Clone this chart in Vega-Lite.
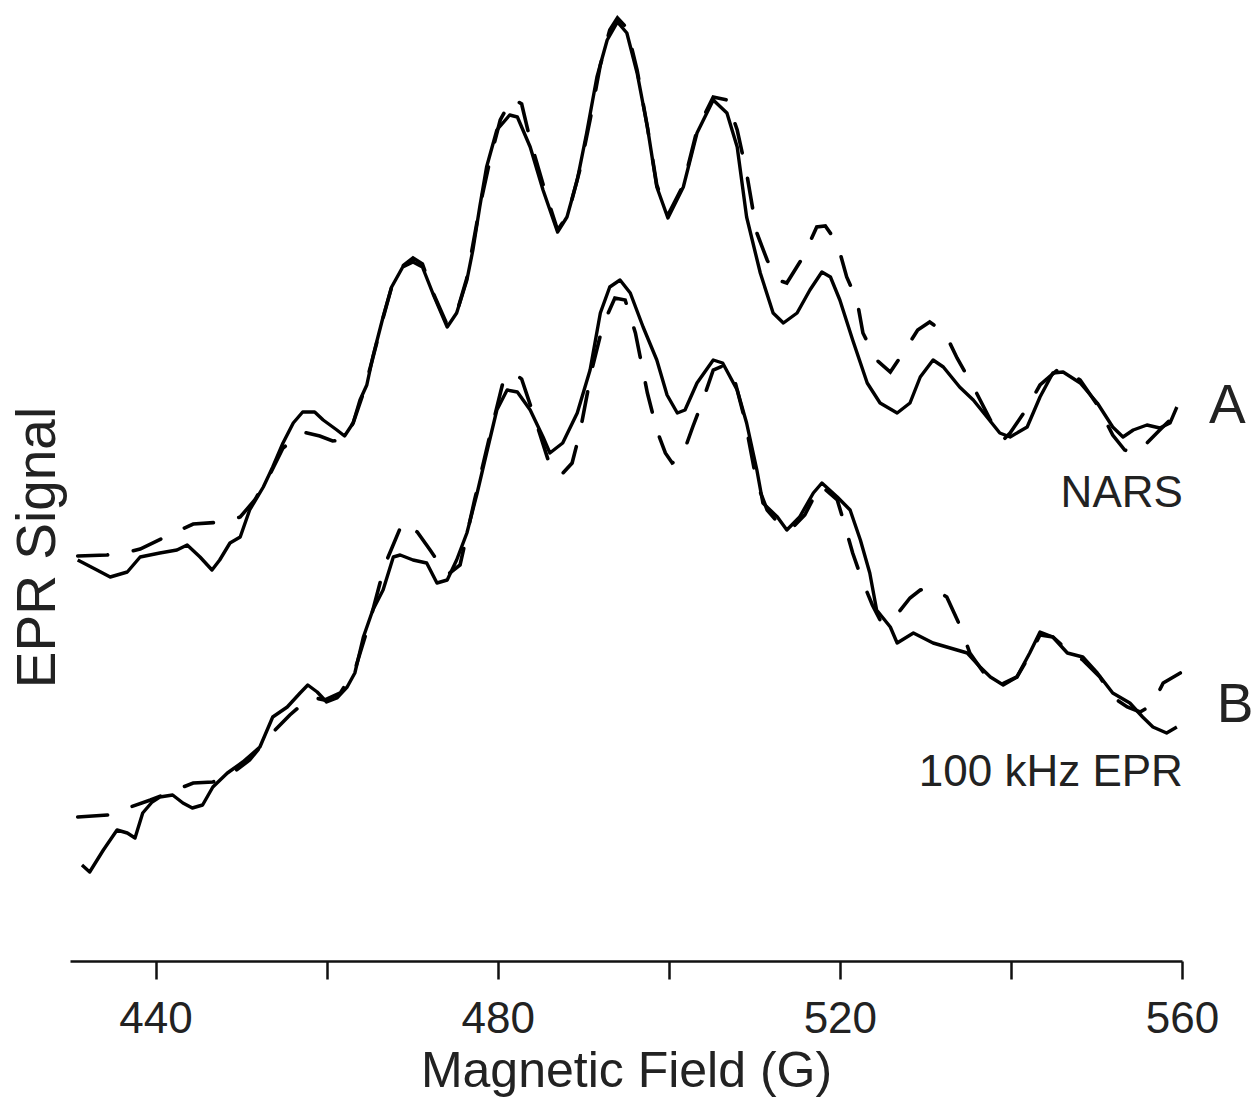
{
  "$schema": "https://vega.github.io/schema/vega-lite/v6.json",
  "width": 1112,
  "height": 961,
  "autosize": {"type": "none"},
  "padding": {"left": 70, "top": 0, "right": 74, "bottom": 147},
  "background": "white",
  "config": {
    "view": {"stroke": null},
    "font": "Liberation Sans"
  },
  "datasets": {
    "spectra": [
      {"field":430.9,"signal":401,"trace":"A","kind":"measured"},{"field":432.7,"signal":393,"trace":"A","kind":"measured"},{"field":434.7,"signal":384,"trace":"A","kind":"measured"},{"field":436.7,"signal":389,"trace":"A","kind":"measured"},{"field":438.2,"signal":404,"trace":"A","kind":"measured"},{"field":440.5,"signal":408,"trace":"A","kind":"measured"},{"field":442.5,"signal":411,"trace":"A","kind":"measured"},{"field":443.7,"signal":416,"trace":"A","kind":"measured"},{"field":445.2,"signal":404,"trace":"A","kind":"measured"},{"field":446.6,"signal":391,"trace":"A","kind":"measured"},{"field":447.5,"signal":401,"trace":"A","kind":"measured"},{"field":448.7,"signal":418,"trace":"A","kind":"measured"},{"field":449.9,"signal":424,"trace":"A","kind":"measured"},{"field":451.0,"signal":451,"trace":"A","kind":"measured"},{"field":452.6,"signal":474,"trace":"A","kind":"measured"},{"field":453.7,"signal":494,"trace":"A","kind":"measured"},{"field":454.9,"signal":518,"trace":"A","kind":"measured"},{"field":456.1,"signal":538,"trace":"A","kind":"measured"},{"field":457.2,"signal":549,"trace":"A","kind":"measured"},{"field":458.6,"signal":549,"trace":"A","kind":"measured"},{"field":459.6,"signal":541,"trace":"A","kind":"measured"},{"field":461.2,"signal":531,"trace":"A","kind":"measured"},{"field":462.1,"signal":525,"trace":"A","kind":"measured"},{"field":463.1,"signal":538,"trace":"A","kind":"measured"},{"field":463.9,"signal":561,"trace":"A","kind":"measured"},{"field":464.7,"signal":576,"trace":"A","kind":"measured"},{"field":465.4,"signal":604,"trace":"A","kind":"measured"},{"field":466.6,"signal":644,"trace":"A","kind":"measured"},{"field":467.6,"signal":674,"trace":"A","kind":"measured"},{"field":468.9,"signal":694,"trace":"A","kind":"measured"},{"field":470.1,"signal":699,"trace":"A","kind":"measured"},{"field":471.2,"signal":694,"trace":"A","kind":"measured"},{"field":472.4,"signal":668,"trace":"A","kind":"measured"},{"field":474.1,"signal":634,"trace":"A","kind":"measured"},{"field":475.2,"signal":648,"trace":"A","kind":"measured"},{"field":476.4,"signal":681,"trace":"A","kind":"measured"},{"field":477.1,"signal":711,"trace":"A","kind":"measured"},{"field":477.9,"signal":754,"trace":"A","kind":"measured"},{"field":478.7,"signal":794,"trace":"A","kind":"measured"},{"field":479.9,"signal":831,"trace":"A","kind":"measured"},{"field":481.4,"signal":846,"trace":"A","kind":"measured"},{"field":482.3,"signal":844,"trace":"A","kind":"measured"},{"field":483.8,"signal":814,"trace":"A","kind":"measured"},{"field":485.3,"signal":771,"trace":"A","kind":"measured"},{"field":487.0,"signal":729,"trace":"A","kind":"measured"},{"field":488.1,"signal":744,"trace":"A","kind":"measured"},{"field":489.3,"signal":781,"trace":"A","kind":"measured"},{"field":490.4,"signal":828,"trace":"A","kind":"measured"},{"field":491.6,"signal":884,"trace":"A","kind":"measured"},{"field":492.8,"signal":921,"trace":"A","kind":"measured"},{"field":494.0,"signal":939,"trace":"A","kind":"measured"},{"field":495.1,"signal":928,"trace":"A","kind":"measured"},{"field":496.3,"signal":888,"trace":"A","kind":"measured"},{"field":497.5,"signal":834,"trace":"A","kind":"measured"},{"field":498.6,"signal":774,"trace":"A","kind":"measured"},{"field":499.9,"signal":743,"trace":"A","kind":"measured"},{"field":501.7,"signal":774,"trace":"A","kind":"measured"},{"field":503.3,"signal":828,"trace":"A","kind":"measured"},{"field":505.2,"signal":861,"trace":"A","kind":"measured"},{"field":506.8,"signal":848,"trace":"A","kind":"measured"},{"field":508.0,"signal":814,"trace":"A","kind":"measured"},{"field":509.1,"signal":744,"trace":"A","kind":"measured"},{"field":510.7,"signal":688,"trace":"A","kind":"measured"},{"field":512.2,"signal":648,"trace":"A","kind":"measured"},{"field":513.4,"signal":638,"trace":"A","kind":"measured"},{"field":515.0,"signal":648,"trace":"A","kind":"measured"},{"field":516.5,"signal":671,"trace":"A","kind":"measured"},{"field":517.9,"signal":689,"trace":"A","kind":"measured"},{"field":518.9,"signal":684,"trace":"A","kind":"measured"},{"field":520.0,"signal":661,"trace":"A","kind":"measured"},{"field":521.5,"signal":621,"trace":"A","kind":"measured"},{"field":523.2,"signal":578,"trace":"A","kind":"measured"},{"field":524.7,"signal":558,"trace":"A","kind":"measured"},{"field":526.7,"signal":548,"trace":"A","kind":"measured"},{"field":528.2,"signal":558,"trace":"A","kind":"measured"},{"field":529.4,"signal":584,"trace":"A","kind":"measured"},{"field":530.9,"signal":601,"trace":"A","kind":"measured"},{"field":532.1,"signal":594,"trace":"A","kind":"measured"},{"field":534.0,"signal":574,"trace":"A","kind":"measured"},{"field":535.6,"signal":561,"trace":"A","kind":"measured"},{"field":537.2,"signal":544,"trace":"A","kind":"measured"},{"field":538.7,"signal":528,"trace":"A","kind":"measured"},{"field":539.9,"signal":524,"trace":"A","kind":"measured"},{"field":541.9,"signal":534,"trace":"A","kind":"measured"},{"field":543.4,"signal":564,"trace":"A","kind":"measured"},{"field":544.9,"signal":588,"trace":"A","kind":"measured"},{"field":546.1,"signal":589,"trace":"A","kind":"measured"},{"field":548.1,"signal":578,"trace":"A","kind":"measured"},{"field":550.1,"signal":558,"trace":"A","kind":"measured"},{"field":551.9,"signal":534,"trace":"A","kind":"measured"},{"field":553.1,"signal":524,"trace":"A","kind":"measured"},{"field":554.3,"signal":531,"trace":"A","kind":"measured"},{"field":555.9,"signal":536,"trace":"A","kind":"measured"},{"field":557.4,"signal":533,"trace":"A","kind":"measured"},{"field":558.6,"signal":538,"trace":"A","kind":"measured"},{"field":559.4,"signal":554,"trace":"A","kind":"measured"},

      {"field":430.9,"signal":405,"trace":"A","kind":"simulated"},{"field":434.3,"signal":406,"trace":"A","kind":"simulated"},{"field":436.4,"signal":408,"trace":"A","kind":"simulated"},{"field":438.2,"signal":412,"trace":"A","kind":"simulated"},{"field":441.1,"signal":424,"trace":"A","kind":"simulated"},{"field":444.4,"signal":437,"trace":"A","kind":"simulated"},{"field":447.9,"signal":439,"trace":"A","kind":"simulated"},{"field":449.9,"signal":444,"trace":"A","kind":"simulated"},{"field":451.6,"signal":461,"trace":"A","kind":"simulated"},{"field":453.4,"signal":487,"trace":"A","kind":"simulated"},{"field":454.9,"signal":513,"trace":"A","kind":"simulated"},{"field":456.1,"signal":521,"trace":"A","kind":"simulated"},{"field":457.2,"signal":529,"trace":"A","kind":"simulated"},{"field":459.2,"signal":525,"trace":"A","kind":"simulated"},{"field":460.7,"signal":520,"trace":"A","kind":"simulated"},{"field":461.9,"signal":521,"trace":"A","kind":"simulated"},{"field":463.1,"signal":538,"trace":"A","kind":"simulated"},{"field":464.3,"signal":568,"trace":"A","kind":"simulated"},{"field":465.4,"signal":603,"trace":"A","kind":"simulated"},{"field":466.6,"signal":643,"trace":"A","kind":"simulated"},{"field":467.6,"signal":674,"trace":"A","kind":"simulated"},{"field":468.9,"signal":695,"trace":"A","kind":"simulated"},{"field":470.1,"signal":703,"trace":"A","kind":"simulated"},{"field":471.2,"signal":697,"trace":"A","kind":"simulated"},{"field":472.4,"signal":669,"trace":"A","kind":"simulated"},{"field":474.1,"signal":636,"trace":"A","kind":"simulated"},{"field":475.2,"signal":648,"trace":"A","kind":"simulated"},{"field":476.4,"signal":683,"trace":"A","kind":"simulated"},{"field":477.9,"signal":754,"trace":"A","kind":"simulated"},{"field":479.1,"signal":801,"trace":"A","kind":"simulated"},{"field":480.3,"signal":841,"trace":"A","kind":"simulated"},{"field":481.7,"signal":863,"trace":"A","kind":"simulated"},{"field":482.8,"signal":857,"trace":"A","kind":"simulated"},{"field":483.8,"signal":821,"trace":"A","kind":"simulated"},{"field":485.5,"signal":771,"trace":"A","kind":"simulated"},{"field":487.0,"signal":731,"trace":"A","kind":"simulated"},{"field":488.2,"signal":746,"trace":"A","kind":"simulated"},{"field":489.6,"signal":791,"trace":"A","kind":"simulated"},{"field":490.8,"signal":841,"trace":"A","kind":"simulated"},{"field":492.0,"signal":896,"trace":"A","kind":"simulated"},{"field":493.1,"signal":931,"trace":"A","kind":"simulated"},{"field":494.0,"signal":943,"trace":"A","kind":"simulated"},{"field":495.1,"signal":933,"trace":"A","kind":"simulated"},{"field":496.3,"signal":891,"trace":"A","kind":"simulated"},{"field":497.5,"signal":834,"trace":"A","kind":"simulated"},{"field":498.6,"signal":776,"trace":"A","kind":"simulated"},{"field":499.9,"signal":746,"trace":"A","kind":"simulated"},{"field":501.7,"signal":776,"trace":"A","kind":"simulated"},{"field":503.3,"signal":831,"trace":"A","kind":"simulated"},{"field":505.2,"signal":864,"trace":"A","kind":"simulated"},{"field":506.8,"signal":861,"trace":"A","kind":"simulated"},{"field":508.0,"signal":831,"trace":"A","kind":"simulated"},{"field":509.1,"signal":788,"trace":"A","kind":"simulated"},{"field":510.3,"signal":728,"trace":"A","kind":"simulated"},{"field":511.5,"signal":701,"trace":"A","kind":"simulated"},{"field":512.7,"signal":681,"trace":"A","kind":"simulated"},{"field":513.8,"signal":678,"trace":"A","kind":"simulated"},{"field":515.7,"signal":704,"trace":"A","kind":"simulated"},{"field":517.3,"signal":734,"trace":"A","kind":"simulated"},{"field":518.3,"signal":735,"trace":"A","kind":"simulated"},{"field":519.7,"signal":718,"trace":"A","kind":"simulated"},{"field":520.8,"signal":684,"trace":"A","kind":"simulated"},{"field":522.0,"signal":661,"trace":"A","kind":"simulated"},{"field":522.7,"signal":628,"trace":"A","kind":"simulated"},{"field":524.3,"signal":601,"trace":"A","kind":"simulated"},{"field":525.9,"signal":589,"trace":"A","kind":"simulated"},{"field":527.4,"signal":608,"trace":"A","kind":"simulated"},{"field":529.1,"signal":631,"trace":"A","kind":"simulated"},{"field":530.5,"signal":639,"trace":"A","kind":"simulated"},{"field":532.3,"signal":628,"trace":"A","kind":"simulated"},{"field":533.7,"signal":603,"trace":"A","kind":"simulated"},{"field":535.8,"signal":571,"trace":"A","kind":"simulated"},{"field":537.6,"signal":541,"trace":"A","kind":"simulated"},{"field":539.1,"signal":521,"trace":"A","kind":"simulated"},{"field":539.9,"signal":528,"trace":"A","kind":"simulated"},{"field":541.9,"signal":553,"trace":"A","kind":"simulated"},{"field":543.4,"signal":576,"trace":"A","kind":"simulated"},{"field":545.7,"signal":593,"trace":"A","kind":"simulated"},{"field":548.1,"signal":581,"trace":"A","kind":"simulated"},{"field":550.1,"signal":556,"trace":"A","kind":"simulated"},{"field":551.9,"signal":526,"trace":"A","kind":"simulated"},{"field":553.3,"signal":511,"trace":"A","kind":"simulated"},{"field":554.5,"signal":508,"trace":"A","kind":"simulated"},{"field":555.9,"signal":518,"trace":"A","kind":"simulated"},{"field":557.4,"signal":531,"trace":"A","kind":"simulated"},{"field":558.6,"signal":541,"trace":"A","kind":"simulated"},{"field":559.8,"signal":551,"trace":"A","kind":"simulated"},

      {"field":431.4,"signal":96,"trace":"B","kind":"measured"},{"field":432.3,"signal":89,"trace":"B","kind":"measured"},{"field":433.9,"signal":111,"trace":"B","kind":"measured"},{"field":435.5,"signal":131,"trace":"B","kind":"measured"},{"field":436.7,"signal":128,"trace":"B","kind":"measured"},{"field":437.6,"signal":123,"trace":"B","kind":"measured"},{"field":438.5,"signal":148,"trace":"B","kind":"measured"},{"field":439.6,"signal":159,"trace":"B","kind":"measured"},{"field":440.5,"signal":164,"trace":"B","kind":"measured"},{"field":442.0,"signal":166,"trace":"B","kind":"measured"},{"field":443.2,"signal":158,"trace":"B","kind":"measured"},{"field":444.3,"signal":153,"trace":"B","kind":"measured"},{"field":445.5,"signal":156,"trace":"B","kind":"measured"},{"field":446.7,"signal":174,"trace":"B","kind":"measured"},{"field":448.4,"signal":188,"trace":"B","kind":"measured"},{"field":450.2,"signal":199,"trace":"B","kind":"measured"},{"field":452.2,"signal":214,"trace":"B","kind":"measured"},{"field":453.7,"signal":244,"trace":"B","kind":"measured"},{"field":455.4,"signal":254,"trace":"B","kind":"measured"},{"field":456.9,"signal":268,"trace":"B","kind":"measured"},{"field":457.8,"signal":276,"trace":"B","kind":"measured"},{"field":458.9,"signal":269,"trace":"B","kind":"measured"},{"field":460.0,"signal":259,"trace":"B","kind":"measured"},{"field":461.2,"signal":263,"trace":"B","kind":"measured"},{"field":462.4,"signal":274,"trace":"B","kind":"measured"},{"field":463.3,"signal":288,"trace":"B","kind":"measured"},{"field":464.3,"signal":324,"trace":"B","kind":"measured"},{"field":465.4,"signal":351,"trace":"B","kind":"measured"},{"field":466.6,"signal":371,"trace":"B","kind":"measured"},{"field":467.8,"signal":404,"trace":"B","kind":"measured"},{"field":468.6,"signal":406,"trace":"B","kind":"measured"},{"field":470.1,"signal":401,"trace":"B","kind":"measured"},{"field":471.7,"signal":398,"trace":"B","kind":"measured"},{"field":472.9,"signal":378,"trace":"B","kind":"measured"},{"field":474.1,"signal":381,"trace":"B","kind":"measured"},{"field":475.2,"signal":401,"trace":"B","kind":"measured"},{"field":476.4,"signal":428,"trace":"B","kind":"measured"},{"field":477.6,"signal":468,"trace":"B","kind":"measured"},{"field":478.7,"signal":508,"trace":"B","kind":"measured"},{"field":479.9,"signal":551,"trace":"B","kind":"measured"},{"field":481.1,"signal":571,"trace":"B","kind":"measured"},{"field":482.3,"signal":569,"trace":"B","kind":"measured"},{"field":483.8,"signal":551,"trace":"B","kind":"measured"},{"field":485.3,"signal":524,"trace":"B","kind":"measured"},{"field":486.1,"signal":508,"trace":"B","kind":"measured"},{"field":487.6,"signal":518,"trace":"B","kind":"measured"},{"field":489.3,"signal":548,"trace":"B","kind":"measured"},{"field":490.8,"signal":591,"trace":"B","kind":"measured"},{"field":492.0,"signal":648,"trace":"B","kind":"measured"},{"field":493.1,"signal":674,"trace":"B","kind":"measured"},{"field":494.3,"signal":681,"trace":"B","kind":"measured"},{"field":495.5,"signal":668,"trace":"B","kind":"measured"},{"field":497.0,"signal":634,"trace":"B","kind":"measured"},{"field":498.6,"signal":601,"trace":"B","kind":"measured"},{"field":499.8,"signal":566,"trace":"B","kind":"measured"},{"field":501.0,"signal":548,"trace":"B","kind":"measured"},{"field":501.9,"signal":551,"trace":"B","kind":"measured"},{"field":503.3,"signal":578,"trace":"B","kind":"measured"},{"field":505.2,"signal":601,"trace":"B","kind":"measured"},{"field":506.3,"signal":598,"trace":"B","kind":"measured"},{"field":508.0,"signal":571,"trace":"B","kind":"measured"},{"field":509.1,"signal":538,"trace":"B","kind":"measured"},{"field":510.3,"signal":491,"trace":"B","kind":"measured"},{"field":511.0,"signal":458,"trace":"B","kind":"measured"},{"field":512.7,"signal":444,"trace":"B","kind":"measured"},{"field":513.8,"signal":431,"trace":"B","kind":"measured"},{"field":515.3,"signal":444,"trace":"B","kind":"measured"},{"field":516.9,"signal":468,"trace":"B","kind":"measured"},{"field":517.9,"signal":478,"trace":"B","kind":"measured"},{"field":519.7,"signal":464,"trace":"B","kind":"measured"},{"field":521.2,"signal":451,"trace":"B","kind":"measured"},{"field":522.4,"signal":421,"trace":"B","kind":"measured"},{"field":523.5,"signal":388,"trace":"B","kind":"measured"},{"field":524.3,"signal":351,"trace":"B","kind":"measured"},{"field":525.9,"signal":334,"trace":"B","kind":"measured"},{"field":526.7,"signal":318,"trace":"B","kind":"measured"},{"field":528.6,"signal":328,"trace":"B","kind":"measured"},{"field":530.9,"signal":318,"trace":"B","kind":"measured"},{"field":533.7,"signal":311,"trace":"B","kind":"measured"},{"field":534.9,"signal":308,"trace":"B","kind":"measured"},{"field":536.4,"signal":294,"trace":"B","kind":"measured"},{"field":537.6,"signal":284,"trace":"B","kind":"measured"},{"field":539.1,"signal":276,"trace":"B","kind":"measured"},{"field":540.7,"signal":284,"trace":"B","kind":"measured"},{"field":542.2,"signal":308,"trace":"B","kind":"measured"},{"field":543.4,"signal":329,"trace":"B","kind":"measured"},{"field":544.9,"signal":324,"trace":"B","kind":"measured"},{"field":546.6,"signal":308,"trace":"B","kind":"measured"},{"field":548.4,"signal":304,"trace":"B","kind":"measured"},{"field":550.1,"signal":288,"trace":"B","kind":"measured"},{"field":551.9,"signal":268,"trace":"B","kind":"measured"},{"field":553.9,"signal":258,"trace":"B","kind":"measured"},{"field":555.4,"signal":244,"trace":"B","kind":"measured"},{"field":556.6,"signal":234,"trace":"B","kind":"measured"},{"field":558.2,"signal":228,"trace":"B","kind":"measured"},{"field":559.4,"signal":234,"trace":"B","kind":"measured"},

      {"field":430.9,"signal":144,"trace":"B","kind":"simulated"},{"field":434.4,"signal":146,"trace":"B","kind":"simulated"},{"field":439.4,"signal":161,"trace":"B","kind":"simulated"},{"field":444.4,"signal":178,"trace":"B","kind":"simulated"},{"field":446.7,"signal":179,"trace":"B","kind":"simulated"},{"field":448.7,"signal":186,"trace":"B","kind":"simulated"},{"field":451.0,"signal":201,"trace":"B","kind":"simulated"},{"field":453.4,"signal":226,"trace":"B","kind":"simulated"},{"field":455.7,"signal":246,"trace":"B","kind":"simulated"},{"field":458.1,"signal":264,"trace":"B","kind":"simulated"},{"field":459.8,"signal":261,"trace":"B","kind":"simulated"},{"field":461.6,"signal":268,"trace":"B","kind":"simulated"},{"field":463.3,"signal":291,"trace":"B","kind":"simulated"},{"field":465.1,"signal":341,"trace":"B","kind":"simulated"},{"field":466.8,"signal":396,"trace":"B","kind":"simulated"},{"field":468.9,"signal":439,"trace":"B","kind":"simulated"},{"field":470.6,"signal":429,"trace":"B","kind":"simulated"},{"field":472.1,"signal":411,"trace":"B","kind":"simulated"},{"field":474.1,"signal":386,"trace":"B","kind":"simulated"},{"field":475.6,"signal":396,"trace":"B","kind":"simulated"},{"field":477.3,"signal":461,"trace":"B","kind":"simulated"},{"field":479.1,"signal":526,"trace":"B","kind":"simulated"},{"field":480.6,"signal":578,"trace":"B","kind":"simulated"},{"field":481.7,"signal":589,"trace":"B","kind":"simulated"},{"field":482.8,"signal":582,"trace":"B","kind":"simulated"},{"field":484.4,"signal":541,"trace":"B","kind":"simulated"},{"field":485.9,"signal":501,"trace":"B","kind":"simulated"},{"field":487.3,"signal":485,"trace":"B","kind":"simulated"},{"field":488.7,"signal":498,"trace":"B","kind":"simulated"},{"field":489.6,"signal":528,"trace":"B","kind":"simulated"},{"field":491.0,"signal":591,"trace":"B","kind":"simulated"},{"field":492.3,"signal":636,"trace":"B","kind":"simulated"},{"field":493.7,"signal":663,"trace":"B","kind":"simulated"},{"field":494.9,"signal":661,"trace":"B","kind":"simulated"},{"field":496.1,"signal":628,"trace":"B","kind":"simulated"},{"field":497.5,"signal":568,"trace":"B","kind":"simulated"},{"field":498.6,"signal":531,"trace":"B","kind":"simulated"},{"field":499.6,"signal":508,"trace":"B","kind":"simulated"},{"field":500.4,"signal":498,"trace":"B","kind":"simulated"},{"field":501.5,"signal":503,"trace":"B","kind":"simulated"},{"field":502.8,"signal":534,"trace":"B","kind":"simulated"},{"field":504.0,"signal":561,"trace":"B","kind":"simulated"},{"field":505.2,"signal":591,"trace":"B","kind":"simulated"},{"field":506.6,"signal":596,"trace":"B","kind":"simulated"},{"field":507.7,"signal":581,"trace":"B","kind":"simulated"},{"field":508.9,"signal":541,"trace":"B","kind":"simulated"},{"field":510.3,"signal":478,"trace":"B","kind":"simulated"},{"field":511.5,"signal":451,"trace":"B","kind":"simulated"},{"field":513.0,"signal":436,"trace":"B","kind":"simulated"},{"field":514.2,"signal":431,"trace":"B","kind":"simulated"},{"field":515.9,"signal":446,"trace":"B","kind":"simulated"},{"field":517.7,"signal":476,"trace":"B","kind":"simulated"},{"field":519.7,"signal":461,"trace":"B","kind":"simulated"},{"field":520.4,"signal":441,"trace":"B","kind":"simulated"},{"field":521.5,"signal":408,"trace":"B","kind":"simulated"},{"field":522.6,"signal":381,"trace":"B","kind":"simulated"},{"field":523.8,"signal":356,"trace":"B","kind":"simulated"},{"field":524.7,"signal":341,"trace":"B","kind":"simulated"},{"field":525.9,"signal":339,"trace":"B","kind":"simulated"},{"field":526.8,"signal":348,"trace":"B","kind":"simulated"},{"field":528.2,"signal":363,"trace":"B","kind":"simulated"},{"field":529.4,"signal":371,"trace":"B","kind":"simulated"},{"field":530.9,"signal":373,"trace":"B","kind":"simulated"},{"field":532.5,"signal":364,"trace":"B","kind":"simulated"},{"field":534.0,"signal":336,"trace":"B","kind":"simulated"},{"field":535.2,"signal":308,"trace":"B","kind":"simulated"},{"field":537.0,"signal":286,"trace":"B","kind":"simulated"},{"field":538.7,"signal":276,"trace":"B","kind":"simulated"},{"field":540.7,"signal":284,"trace":"B","kind":"simulated"},{"field":542.2,"signal":306,"trace":"B","kind":"simulated"},{"field":543.4,"signal":326,"trace":"B","kind":"simulated"},{"field":544.9,"signal":324,"trace":"B","kind":"simulated"},{"field":546.6,"signal":311,"trace":"B","kind":"simulated"},{"field":548.4,"signal":301,"trace":"B","kind":"simulated"},{"field":550.4,"signal":284,"trace":"B","kind":"simulated"},{"field":551.9,"signal":264,"trace":"B","kind":"simulated"},{"field":553.6,"signal":254,"trace":"B","kind":"simulated"},{"field":555.1,"signal":249,"trace":"B","kind":"simulated"},{"field":556.5,"signal":256,"trace":"B","kind":"simulated"},{"field":557.8,"signal":278,"trace":"B","kind":"simulated"},{"field":559.8,"signal":288,"trace":"B","kind":"simulated"}
    ],
    "traceLabels": [
      {"field":565.3,"signal":555,"text":"A"},
      {"field":566.2,"signal":256,"text":"B"}
    ],
    "sampleLabels": [
      {"field":560.1,"signal":467,"text":"NARS"},
      {"field":560.1,"signal":188,"text":"100 kHz EPR"}
    ]
  },
  "layer": [
    {
      "data": {"name": "spectra"},
      "transform": [{"filter": "datum.kind === 'simulated'"}],
      "mark": {"type": "line", "color": "#000", "strokeWidth": 3.6, "strokeDash": [30, 26], "strokeCap": "round", "clip": false},
      "encoding": {
        "x": {
          "field": "field", "type": "quantitative",
          "scale": {"domain": [430, 560], "nice": false, "zero": false},
          "axis": {
            "title": "Magnetic Field (G)",
            "values": [440, 460, 480, 500, 520, 540, 560],
            "labelExpr": "datum.value % 40 === 0 ? datum.label : ''",
            "format": "d",
            "grid": false,
            "domainColor": "#111", "domainWidth": 2.5,
            "tickColor": "#111", "tickWidth": 2.5, "tickSize": 18,
            "labelFont": "Liberation Sans", "labelFontSize": 44, "labelColor": "#222",
            "labelPadding": 18, "labelFlush": false, "labelOverlap": false,
            "titleFont": "Liberation Sans", "titleFontSize": 50, "titleFontWeight": "normal", "titleColor": "#222",
            "titlePadding": 5
          }
        },
        "y": {
          "field": "signal", "type": "quantitative",
          "scale": {"domain": [0, 961], "nice": false, "zero": false},
          "axis": {
            "title": "EPR Signal",
            "domain": false, "ticks": false, "labels": false, "grid": false,
            "titleFont": "Liberation Sans", "titleFontSize": 55, "titleFontWeight": "normal", "titleColor": "#222",
            "titleBaseline": "alphabetic", "titlePadding": 16, "titleY": 547
          }
        },
        "detail": {"field": "trace"}
      }
    },
    {
      "data": {"name": "spectra"},
      "transform": [{"filter": "datum.kind === 'measured'"}],
      "mark": {"type": "line", "color": "#000", "strokeWidth": 3.4, "strokeJoin": "round", "clip": false},
      "encoding": {
        "x": {"field": "field", "type": "quantitative"},
        "y": {"field": "signal", "type": "quantitative"},
        "detail": {"field": "trace"}
      }
    },
    {
      "data": {"name": "traceLabels"},
      "mark": {"type": "text", "font": "Liberation Sans", "fontSize": 55, "color": "#222", "align": "center", "baseline": "middle", "clip": false},
      "encoding": {
        "x": {"field": "field", "type": "quantitative"},
        "y": {"field": "signal", "type": "quantitative"},
        "text": {"field": "text"}
      }
    },
    {
      "data": {"name": "sampleLabels"},
      "mark": {"type": "text", "font": "Liberation Sans", "fontSize": 44, "color": "#222", "align": "right", "baseline": "middle", "clip": false},
      "encoding": {
        "x": {"field": "field", "type": "quantitative"},
        "y": {"field": "signal", "type": "quantitative"},
        "text": {"field": "text"}
      }
    }
  ]
}
